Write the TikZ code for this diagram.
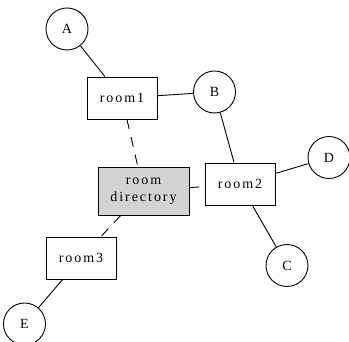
\documentclass[tikz,border=0pt]{standalone}
\usepackage{fontspec}
\setmainfont{Liberation Serif}[LetterSpace=14]
\usepackage{tikz}
\usetikzlibrary{arrows.meta,positioning}
\definecolor{dirgray}{RGB}{211,211,211}

\begin{document}
\begin{tikzpicture}[
		x=1pt, y=1pt,
		room/.style={
			draw,
			line width=0.9pt,
			fill=white,
			inner sep=0pt,
			minimum width=70pt,
			minimum height=42pt,
			align=center,
			font=\fontsize{14}{17}\selectfont
		},
		person/.style={
			draw,
			circle,
			line width=0.9pt,
			inner sep=0pt,
			minimum size=42pt,
			font=\fontsize{14}{17}\selectfont
		},
		link/.style={line width=0.9pt},
		lookup/.style={line width=0.9pt, dash pattern=on 10pt off 8pt}
		]
		\useasboundingbox (0,0) rectangle (349,342);
		
		% the directory in the middle
		\node[room, fill=dirgray, minimum width=91pt, minimum height=48pt] (dir) at (143.5,151) {room\\directory};
		
		% rooms
		\node[room] (room1) at (122,244) {room1};
		\node[room] (room2) at (240,158) {room2};
		\node[room] (room3) at (81,84) {room3};
		
		% members
		\node[person] (A) at (67,313) {A};
		\node[person] (B) at (214.5,250) {B};
		\node[person] (C) at (287,76.5) {C};
		\node[person] (D) at (329,184.5) {D};
		\node[person] (E) at (24.5,18) {E};
		
		% members in rooms
		\draw[link] (A) -- (room1);
		\draw[link] (room1) -- (B);
		\draw[link] (B) -- (room2);
		\draw[link] (room2) -- (D);
		\draw[link] (room2) -- (C);
		\draw[link] (room3) -- (E);
		
		% rooms known to the directory
		\draw[lookup] (room1) -- (dir);
		\draw[lookup] (dir) -- (room2);
		\draw[lookup] (dir) -- (room3);
		
		\end{tikzpicture}
\end{document}
